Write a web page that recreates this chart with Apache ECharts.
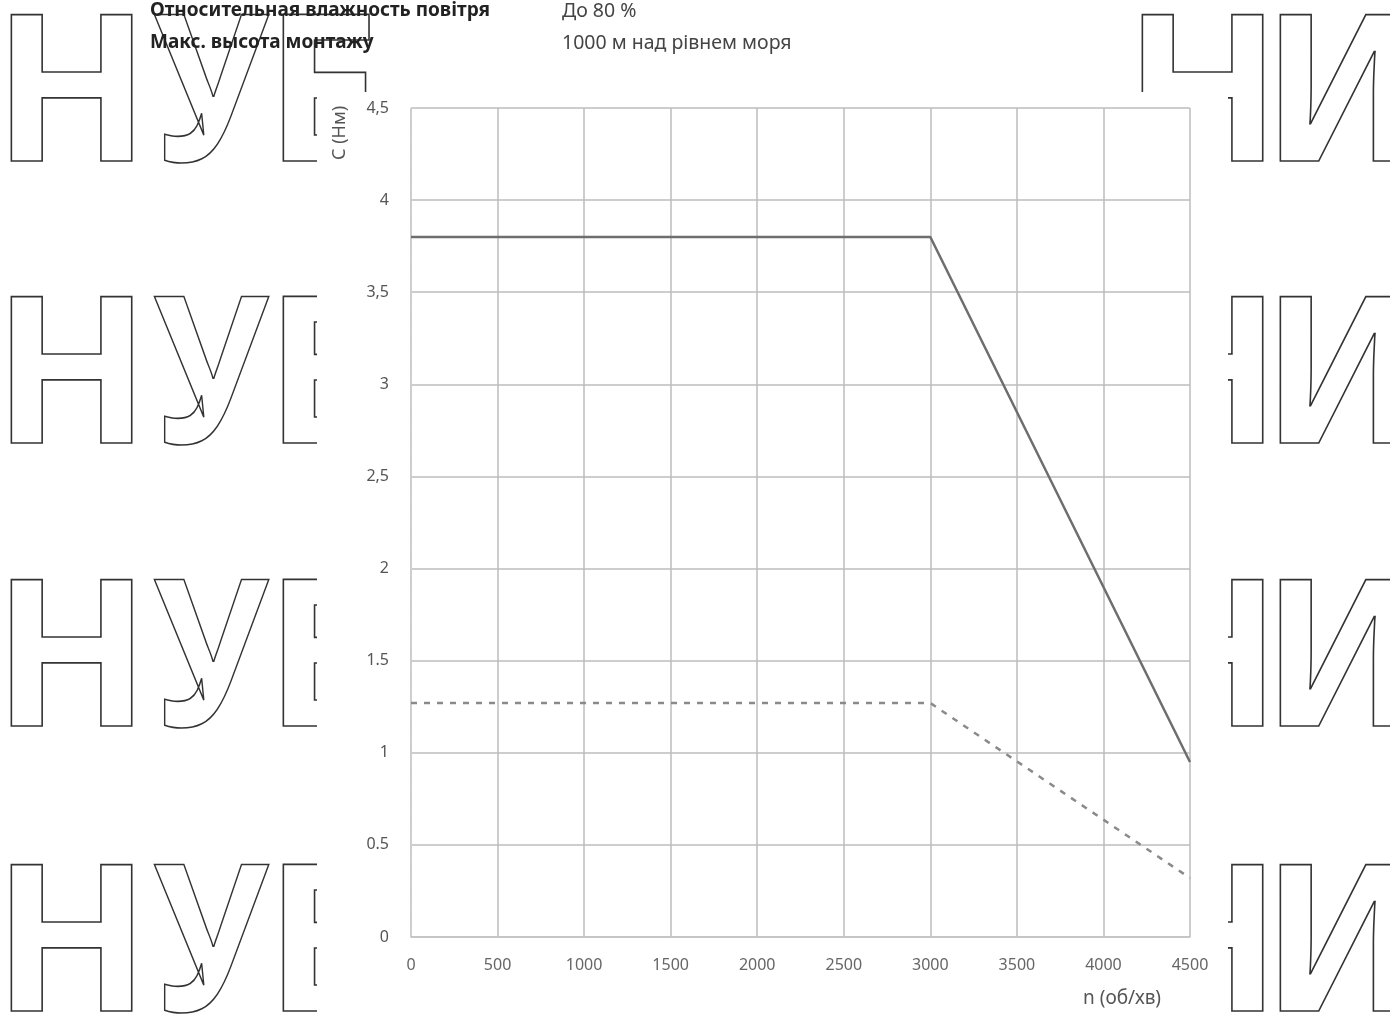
<!DOCTYPE html>
<html>
<head>
<meta charset="utf-8">
<script src="https://cdn.jsdelivr.net/npm/echarts@6/dist/echarts.min.js"></script>
<style>
  html, body { margin: 0; padding: 0; background: #fff; }
  #chart { width: 1390px; height: 1016px; }
</style>
</head>
<body>
<div id="chart"></div>
<script>
// швидкість, об/хв
var speedPoints = [0, 3000, 4500];
// крутний момент, суцільна лінія
var torqueMax = [3.8, 3.8, 0.95];
// крутний момент, пунктир
var torqueRated = [1.27, 1.27, 0.32];

var xTickLabels = ["0", "500", "1000", "1500", "2000", "2500", "3000", "3500", "4000", "4500"];
var yTickLabels = ["0", "0.5", "1", "1.5", "2", "2,5", "3", "3,5", "4", "4,5"];

var headerRows = [
    ["Относительная влажность повітря", "До 80 %"],
    ["Макс. высота монтажу", "1000 м над рівнем моря"]
];

var FONT = '"Liberation Sans Narrow", "Noto Sans", sans-serif';

function pairs(xs, ys) {
    var out = [];
    for (var i = 0; i < xs.length; i++) {
        out.push([xs[i], ys[i]]);
    }
    return out;
}

// водяний знак позаду графіка
var wmTops = [1, 283, 566, 851];
var wmLetters = [
    // [буква, лівий край, стиск по x]
    ['Н', -7, 1], ['У', 153, 0.88], ['Е', 266, 1],
    ['Н', 1124, 1], ['И', 1262, 1]
];
var graphics = [];
wmTops.forEach(function (top) {
    wmLetters.forEach(function (l) {
        graphics.push({
            type: 'text', x: l[1], y: top, scaleX: l[2], z: -20,
            style: {
                text: l[0], font: 'bold 204px "Noto Sans"', verticalAlign: 'top',
                fill: 'rgba(0,0,0,0)', stroke: '#333', lineWidth: 1.6
            }
        });
    });
});
// біле поле під графіком
graphics.push({
    type: 'rect', z: -10,
    shape: { x: 317, y: 92, width: 911, height: 930 },
    style: { fill: '#fff' }
});
headerRows.forEach(function (row, i) {
    graphics.push({
        type: 'text', left: 150, top: 1 + i * 32, z: 5,
        style: { text: row[0], font: 'bold 19px ' + FONT, fill: '#222' }
    });
    graphics.push({
        type: 'text', left: 562, top: 1 + i * 32, z: 5,
        style: { text: row[1], font: '19.5px ' + FONT, fill: '#444' }
    });
});
// підписи осей
graphics.push({
    type: 'text', x: 331, y: 160, rotation: Math.PI / 2, z: 5,
    style: { text: 'С (Нм)', font: '18px ' + FONT, fill: '#555' }
});
graphics.push({
    type: 'text', left: 1083, top: 989, z: 5,
    style: { text: 'n (об/хв)', font: '19px ' + FONT, fill: '#555' }
});

var chart = echarts.init(document.getElementById('chart'));

var gridLine = { show: true, lineStyle: { color: '#bdbdbd', width: 1.5 } };

chart.setOption({
    backgroundColor: '#fff',
    animation: false,
    grid: { left: 411, top: 108, width: 779, height: 829, containLabel: false },
    xAxis: {
        type: 'value',
        min: 0, max: 4500, interval: 500,
        axisLine: { show: true, lineStyle: { color: '#c4c4c4', width: 1.5 } },
        axisTick: { show: false },
        splitLine: gridLine,
        axisLabel: {
            margin: 20,
            fontFamily: FONT, fontSize: 16, color: '#666',
            formatter: function (v) { return xTickLabels[Math.round(v / 500)]; }
        }
    },
    yAxis: {
        type: 'value',
        min: 0, max: 4.5, interval: 0.5,
        axisLine: { show: true, lineStyle: { color: '#cfcfcf', width: 1, type: 'dashed' } },
        axisTick: { show: false },
        splitLine: gridLine,
        axisLabel: {
            margin: 22,
            fontFamily: FONT, fontSize: 16, color: '#555',
            formatter: function (v) { return yTickLabels[Math.round(v / 0.5)]; }
        }
    },
    series: [
        {
            name: 'max',
            type: 'line',
            data: pairs(speedPoints, torqueMax),
            showSymbol: false,
            lineStyle: { color: '#6e6e6e', width: 2.5 },
            z: 3
        },
        {
            name: 'rated',
            type: 'line',
            data: pairs(speedPoints, torqueRated),
            showSymbol: false,
            lineStyle: { color: '#8a8a8a', width: 2.5, type: [6, 7] },
            z: 3
        }
    ],
    graphic: graphics
});
</script>
</body>
</html>
